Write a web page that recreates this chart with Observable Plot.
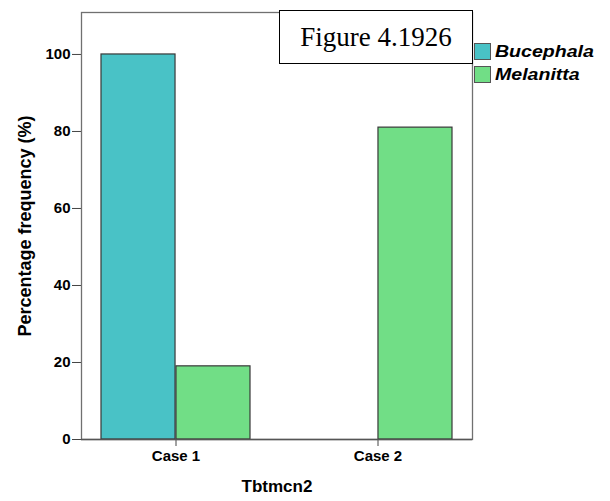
<!DOCTYPE html>
<html>
<head>
<meta charset="utf-8">
<script src="https://cdn.jsdelivr.net/npm/d3@7"></script>
<script src="https://cdn.jsdelivr.net/npm/@observablehq/plot@0.6"></script>
<style>
  html, body { margin: 0; padding: 0; background: #fff; }
  #wrap { position: relative; width: 610px; height: 501px; font-family: "Liberation Sans", Arial, sans-serif; overflow: hidden; }
  #chart { position: absolute; left: 0; top: 0; }
  .figbox { position: absolute; left: 279px; top: 10px; width: 192px; height: 52px; border: 1px solid #000; background: #fff;
    font-family: "Liberation Serif", "Times New Roman", serif; font-size: 27px; color: #000;
    display: flex; align-items: center; justify-content: center; }
  .legend { position: absolute; left: 474px; top: 43px; }
  .legend .item { display: flex; align-items: center; height: 17px; margin-bottom: 6px; }
  .legend .sw { width: 17px; height: 17px; border: 1px solid #555; box-sizing: border-box; margin-right: 4px; flex: none; }
  .legend .lab { font-weight: bold; font-style: italic; font-size: 17px; color: #000; transform: scaleX(1.15); transform-origin: left center; white-space: nowrap; }
</style>
</head>
<body>
<div id="wrap">
  <div id="chart"></div>
  <div class="figbox" id="figbox"></div>
  <div class="legend" id="legend"></div>
</div>
<script>
const cases = ["Case 1", "Case 2"];
const species = ["Bucephala", "Melanitta"];
const bucephala = [100, 0];
const melanitta = [19, 81];
const yTicks = [0, 20, 40, 60, 80, 100];
const colors = ["#49C2C6", "#71DE86"];
const figureTitle = "Figure 4.1926";
const xTitle = "Tbtmcn2";
const yTitle = "Percentage frequency (%)";

const rows = [];
cases.forEach((c, i) => {
  rows.push({case: c, species: species[0], value: bucephala[i]});
  rows.push({case: c, species: species[1], value: melanitta[i]});
});

const W = 610, H = 501;
const mL = 81, mR = 138, mT = 12, mB = 62;
const padIn = 0.261, padOut = 0.094;
const innerW = W - mL - mR;
const step = innerW / (cases.length - padIn + 2 * padOut);
const half = step * (1 - padIn) / 2;

const plot = Plot.plot({
  width: W,
  height: H,
  marginLeft: mL,
  marginRight: mR,
  marginTop: mT,
  marginBottom: mB,
  style: {fontFamily: "'Liberation Sans', Arial, sans-serif", fontSize: "15px", fontWeight: "bold", color: "#000", background: "#fff", overflow: "visible"},
  x: {domain: cases, paddingInner: padIn, paddingOuter: padOut, label: xTitle, labelAnchor: "center", labelOffset: 52, tickSize: 7, tickPadding: 4},
  y: {domain: [0, 110.9], ticks: yTicks, label: yTitle, labelAnchor: "center", labelOffset: 63, tickSize: 9, tickPadding: 2, tickFormat: d => String(d)},
  color: {domain: species, range: colors},
  marks: [
    Plot.frame({stroke: "#707070", strokeWidth: 1.3}),
    Plot.barY(rows.filter(d => d.species === species[0]), {x: "case", y: "value", fill: "species", stroke: "#383838", strokeWidth: 1.2, insetRight: half, insetLeft: 0}),
    Plot.barY(rows.filter(d => d.species === species[1]), {x: "case", y: "value", fill: "species", stroke: "#383838", strokeWidth: 1.2, insetLeft: half, insetRight: 0}),
    Plot.ruleY([0], {stroke: "#555", strokeWidth: 1.3})
  ]
});
document.getElementById("chart").appendChild(plot);

// Axis titles: bold, larger, no arrows
d3.select(plot).selectAll("text").each(function() {
  const t = this.textContent;
  if (t.includes(yTitle)) {
    d3.select(this).text(yTitle).attr("font-weight", "bold").attr("font-size", "18px").attr("fill", "#000");
  } else if (t.includes(xTitle)) {
    d3.select(this).text(xTitle).attr("font-weight", "bold").attr("font-size", "17px").attr("fill", "#000");
  }
});
d3.select(plot).selectAll("g[aria-label*='tick'] path, g[aria-label*='axis'] path").attr("stroke", "#444");

document.getElementById("figbox").textContent = figureTitle;
const leg = d3.select("#legend");
species.forEach((s, i) => {
  const it = leg.append("div").attr("class", "item");
  it.append("div").attr("class", "sw").style("background", colors[i]);
  it.append("div").attr("class", "lab").text(s);
});
</script>
</body>
</html>
